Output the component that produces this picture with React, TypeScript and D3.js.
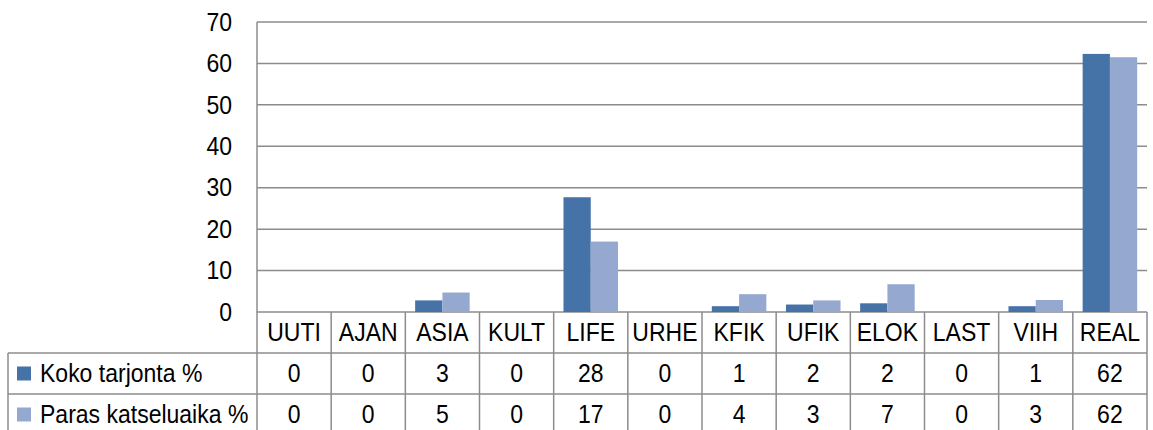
import React, { useEffect, useRef } from "react";
import * as d3 from "d3";

const categories = ["UUTI", "AJAN", "ASIA", "KULT", "LIFE", "URHE", "KFIK", "UFIK", "ELOK", "LAST", "VIIH", "REAL"];
const seriesNames = ["Koko tarjonta %", "Paras katseluaika %"];
const kokoValues = [0, 0, 2.8, 0, 27.7, 0, 1.4, 1.8, 2.1, 0, 1.4, 62.3];
const parasValues = [0, 0, 4.7, 0, 17.0, 0, 4.3, 2.8, 6.7, 0, 2.9, 61.5];
const kokoLabels = ["0", "0", "3", "0", "28", "0", "1", "2", "2", "0", "1", "62"];
const parasLabels = ["0", "0", "5", "0", "17", "0", "4", "3", "7", "0", "3", "62"];
const yTicks = [0, 10, 20, 30, 40, 50, 60, 70];
const colors = ["#4572a7", "#95a9d0"];

function App() {
  const ref = useRef<SVGSVGElement>(null);
  const width = 1153;
  const height = 430;
  const margin = { top: 22, right: 6, bottom: 118, left: 257 };

  useEffect(() => {
    drawChart();
  });

  function drawChart() {
    const svg = d3.select(ref.current);
    svg.selectAll("*").remove();

    const font = "'Liberation Sans', Arial, sans-serif";
    const fontSize = "25px";
    const squeeze = 0.92; // narrow the glyphs a bit, like the original font
    const grid = "#8c8c8c";
    const plotBottom = height - margin.bottom;
    const place = (px: number, py: number) => `translate(${px},${py}) scale(${squeeze},1)`;

    const x = d3
      .scaleBand()
      .domain(categories)
      .range([margin.left, width - margin.right]);

    const y = d3.scaleLinear().domain([0, 70]).range([plotBottom, margin.top]);

    const inner = d3
      .scaleBand()
      .domain(["0", "1"])
      .range([0, x.bandwidth()])
      .paddingInner(0)
      .paddingOuter(0.36);

    // gridlines
    svg
      .append("g")
      .selectAll("line")
      .data(yTicks)
      .enter()
      .append("line")
      .attr("x1", margin.left)
      .attr("x2", width - margin.right)
      .attr("y1", (d) => y(d))
      .attr("y2", (d) => y(d))
      .style("stroke", grid)
      .style("stroke-width", 1.5);

    // y tick labels
    svg
      .append("g")
      .selectAll("text")
      .data(yTicks)
      .enter()
      .append("text")
      .attr("transform", (d) => place(margin.left - 25, y(d)))
      .attr("dy", "0.35em")
      .attr("text-anchor", "end")
      .style("font-family", font)
      .style("font-size", fontSize)
      .text((d) => d);

    // bars
    const seriesValues = [kokoValues, parasValues];
    seriesValues.forEach((vals, s) => {
      svg
        .append("g")
        .selectAll("rect")
        .data(vals)
        .enter()
        .append("rect")
        .attr("x", (_, i) => x(categories[i])! + inner(String(s))!)
        .attr("width", inner.bandwidth())
        .attr("y", (d) => y(d))
        .attr("height", (d) => plotBottom - y(d))
        .style("fill", colors[s]);
    });

    // data table
    const rowH = 41;
    const tableLeft = 8;
    const rowTops = [plotBottom, plotBottom + rowH, plotBottom + 2 * rowH];
    const tableBottom = plotBottom + 3 * rowH;
    const t = svg.append("g").style("stroke", grid).style("stroke-width", 1.5);

    // horizontal table lines
    t.append("line")
      .attr("x1", tableLeft)
      .attr("x2", width - margin.right)
      .attr("y1", rowTops[1])
      .attr("y2", rowTops[1]);
    t.append("line")
      .attr("x1", tableLeft)
      .attr("x2", width - margin.right)
      .attr("y1", rowTops[2])
      .attr("y2", rowTops[2]);
    t.append("line")
      .attr("x1", tableLeft)
      .attr("x2", tableLeft)
      .attr("y1", rowTops[1])
      .attr("y2", tableBottom);

    // vertical lines
    const edges = categories.map((c) => x(c)!).concat([width - margin.right]);
    t.selectAll(".v")
      .data(edges)
      .enter()
      .append("line")
      .attr("x1", (d) => d)
      .attr("x2", (d) => d)
      .attr("y1", (_, i) => (i === 0 ? margin.top : plotBottom))
      .attr("y2", tableBottom);

    const cx = (c: string) => x(c)! + x.bandwidth() / 2;

    svg
      .append("g")
      .selectAll("text")
      .data(categories)
      .enter()
      .append("text")
      .attr("transform", (d) => place(cx(d), rowTops[0] + rowH / 2))
      .attr("dy", "0.35em")
      .attr("text-anchor", "middle")
      .style("font-family", font)
      .style("font-size", fontSize)
      .text((d) => d);

    [kokoLabels, parasLabels].forEach((labels, s) => {
      const row = svg.append("g");
      row
        .selectAll("text")
        .data(labels)
        .enter()
        .append("text")
        .attr("transform", (_, i) => place(cx(categories[i]), rowTops[s + 1] + rowH / 2))
        .attr("dy", "0.35em")
        .attr("text-anchor", "middle")
        .style("font-family", font)
        .style("font-size", fontSize)
        .text((d) => d);
      row
        .append("rect")
        .attr("x", tableLeft + 9)
        .attr("y", rowTops[s + 1] + rowH / 2 - 7)
        .attr("width", 14)
        .attr("height", 14)
        .style("fill", colors[s]);
      row
        .append("text")
        .attr("transform", place(tableLeft + 32, rowTops[s + 1] + rowH / 2))
        .attr("dy", "0.35em")
        .style("font-family", font)
        .style("font-size", fontSize)
        .text(seriesNames[s]);
    });
  }

  return (
    <svg
      ref={ref}
      width={width}
      height={height}
      style={{ position: "absolute", left: 0, top: 0, background: "#fff" }}
    />
  );
}

export default App;
